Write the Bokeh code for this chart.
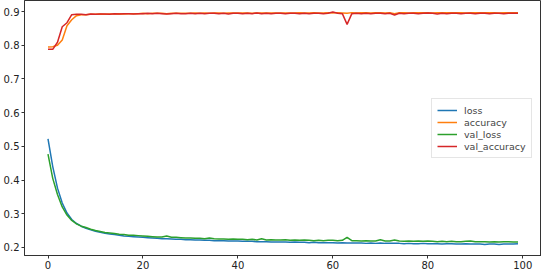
from bokeh.plotting import figure
from bokeh.embed import file_html
from bokeh.resources import INLINE
from bokeh.models import Range1d, FixedTicker, Legend, LegendItem

epochs = list(range(100))

loss = [0.522, 0.440, 0.376, 0.332, 0.302, 0.283, 0.271, 0.263, 0.257, 0.252,
        0.248, 0.245, 0.242, 0.240, 0.238, 0.236, 0.234, 0.233, 0.232, 0.231,
        0.230, 0.229, 0.228, 0.227, 0.226, 0.226, 0.225, 0.224, 0.224, 0.223,
        0.223, 0.222, 0.222, 0.221, 0.221, 0.220, 0.220, 0.220, 0.219, 0.219,
        0.219, 0.218, 0.218, 0.218, 0.217, 0.217, 0.217, 0.216, 0.216, 0.216,
        0.216, 0.215, 0.216, 0.215, 0.215, 0.214, 0.215, 0.214, 0.214, 0.214,
        0.214, 0.213, 0.214, 0.213, 0.213, 0.213, 0.213, 0.212, 0.213, 0.212,
        0.213, 0.212, 0.212, 0.212, 0.212, 0.211, 0.212, 0.211, 0.211, 0.212,
        0.211, 0.211, 0.211, 0.210, 0.211, 0.211, 0.210, 0.210, 0.211, 0.210,
        0.210, 0.210, 0.209, 0.210, 0.210, 0.209, 0.210, 0.210, 0.210, 0.211]

val_loss = [0.477, 0.405, 0.357, 0.320, 0.296, 0.280, 0.270, 0.263, 0.259, 0.254,
            0.250, 0.247, 0.244, 0.243, 0.241, 0.239, 0.238, 0.236, 0.236, 0.235,
            0.234, 0.233, 0.232, 0.231, 0.231, 0.234, 0.230, 0.230, 0.229, 0.228,
            0.228, 0.227, 0.227, 0.226, 0.228, 0.226, 0.225, 0.225, 0.224, 0.225,
            0.224, 0.224, 0.223, 0.224, 0.222, 0.226, 0.222, 0.223, 0.222, 0.222,
            0.223, 0.221, 0.222, 0.221, 0.222, 0.221, 0.220, 0.221, 0.220, 0.221,
            0.221, 0.220, 0.221, 0.230, 0.220, 0.220, 0.219, 0.220, 0.219, 0.219,
            0.223, 0.219, 0.219, 0.222, 0.219, 0.218, 0.219, 0.218, 0.219, 0.218,
            0.219, 0.218, 0.217, 0.218, 0.217, 0.218, 0.217, 0.217, 0.218, 0.219,
            0.217, 0.217, 0.217, 0.216, 0.217, 0.216, 0.217, 0.217, 0.216, 0.216]

accuracy = [0.795, 0.796, 0.800, 0.816, 0.858, 0.876, 0.888, 0.891, 0.891, 0.892,
            0.892, 0.893, 0.892, 0.893, 0.893, 0.894, 0.893, 0.894, 0.894, 0.894,
            0.895, 0.894, 0.895, 0.895, 0.895, 0.894, 0.895, 0.895, 0.895, 0.895,
            0.895, 0.896, 0.895, 0.896, 0.895, 0.896, 0.896, 0.895, 0.896, 0.896,
            0.896, 0.896, 0.896, 0.895, 0.896, 0.896, 0.896, 0.896, 0.896, 0.896,
            0.896, 0.896, 0.896, 0.897, 0.896, 0.896, 0.897, 0.896, 0.896, 0.897,
            0.896, 0.897, 0.896, 0.895, 0.897, 0.896, 0.897, 0.897, 0.896, 0.897,
            0.897, 0.896, 0.897, 0.894, 0.897, 0.897, 0.896, 0.897, 0.897, 0.897,
            0.897, 0.896, 0.897, 0.897, 0.897, 0.897, 0.897, 0.897, 0.896, 0.897,
            0.897, 0.897, 0.897, 0.897, 0.897, 0.896, 0.897, 0.897, 0.897, 0.897]

val_accuracy = [0.788, 0.788, 0.809, 0.855, 0.867, 0.891, 0.892, 0.892, 0.891, 0.893,
                0.892, 0.893, 0.893, 0.892, 0.894, 0.893, 0.894, 0.894, 0.893, 0.894,
                0.894, 0.895, 0.894, 0.895, 0.894, 0.893, 0.894, 0.895, 0.894, 0.894,
                0.895, 0.894, 0.895, 0.894, 0.895, 0.895, 0.894, 0.895, 0.893, 0.895,
                0.895, 0.894, 0.895, 0.894, 0.896, 0.894, 0.895, 0.894, 0.895, 0.895,
                0.894, 0.895, 0.895, 0.894, 0.895, 0.894, 0.895, 0.895, 0.894, 0.895,
                0.899, 0.895, 0.894, 0.862, 0.894, 0.895, 0.894, 0.895, 0.894, 0.895,
                0.895, 0.894, 0.895, 0.890, 0.895, 0.894, 0.895, 0.895, 0.894, 0.895,
                0.896, 0.895, 0.893, 0.895, 0.894, 0.895, 0.895, 0.894, 0.895, 0.895,
                0.894, 0.895, 0.895, 0.894, 0.895, 0.895, 0.894, 0.895, 0.895, 0.895]

series_names = ["loss", "accuracy", "val_loss", "val_accuracy"]
series_colors = ["#1f77b4", "#ff7f0e", "#2ca02c", "#d62728"]
x_ticks = [0, 20, 40, 60, 80, 100]
y_ticks = [0.2, 0.3, 0.4, 0.5, 0.6, 0.7, 0.8, 0.9]

p = figure(width=541, height=271, output_backend="svg", toolbar_location=None,
           x_range=Range1d(-4.95, 103.95), y_range=Range1d(0.176, 0.933),
           min_border_left=0, min_border_right=0, min_border_top=0, min_border_bottom=0)

renderers = []
for name, col, ys in zip(series_names, series_colors, [loss, accuracy, val_loss, val_accuracy]):
    r = p.line(epochs, ys, line_color=col, line_width=1.5)
    renderers.append((name, r))

legend = Legend(items=[LegendItem(label=n, renderers=[r]) for n, r in renderers],
                location=(407, 97))
legend.label_text_font = "DejaVu Sans"
legend.label_text_font_size = "9.5px"
legend.label_height = 12
legend.glyph_height = 12
legend.glyph_width = 20
legend.spacing = 0
legend.padding = 5
legend.margin = 0
legend.border_line_color = "#cccccc"
legend.border_line_width = 1
legend.background_fill_alpha = 0.8
legend.label_standoff = 7
p.add_layout(legend)

p.grid.visible = False
p.outline_line_color = "#333333"
p.outline_line_width = 1
p.background_fill_color = "white"

for ax in [p.xaxis[0], p.yaxis[0]]:
    ax.axis_line_color = "#333333"
    ax.major_tick_line_color = "#333333"
    ax.minor_tick_line_color = None
    ax.major_tick_in = 0
    ax.major_tick_out = 3
    ax.major_label_text_font = "DejaVu Sans"
    ax.major_label_text_font_size = "10px"
    ax.major_label_text_color = "#222222"
    ax.major_label_standoff = 2

p.xaxis[0].ticker = FixedTicker(ticks=x_ticks)
p.yaxis[0].ticker = FixedTicker(ticks=y_ticks)

open("out.html", "w").write(file_html(p, INLINE))
